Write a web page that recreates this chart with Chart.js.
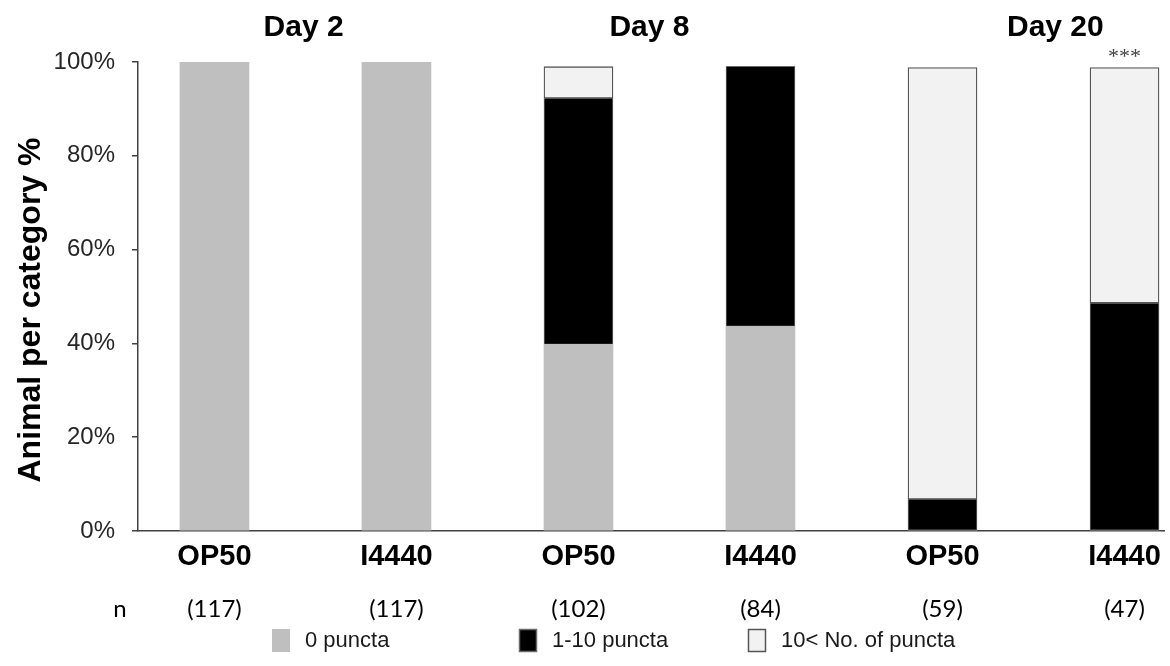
<!DOCTYPE html>
<html>
<head>
<meta charset="utf-8">
<script src="https://cdn.jsdelivr.net/npm/chart.js@4.4.1/dist/chart.umd.min.js"></script>
<style>
  html, body { margin: 0; padding: 0; background: #ffffff; }
  #wrap { width: 1170px; height: 666px; }
</style>
</head>
<body>
<div id="wrap"><canvas id="c" width="1170" height="666"></canvas></div>
<script>
// Strain fed at each time point, with animal counts
const strains = ['OP50', 'I4440', 'OP50', 'I4440', 'OP50', 'I4440'];
const days = ['Day 2', 'Day 8', 'Day 20'];
const nAnimals = ['(117)', '(117)', '(102)', '(84)', '(59)', '(47)'];

// Percentage of animals in each puncta category
const zeroPuncta = [100, 100, 39.8, 43.6, 0, 0];
const lowPuncta  = [0, 0, 52.5, 55.5, 6.8, 48.6];
const highPuncta = [0, 0, 6.7, 0, 92.0, 50.2];
const seriesNames = ['0 puncta', '1-10 puncta', '10< No. of puncta'];

const yTicks = [0, 20, 40, 60, 80, 100];
const significance = ['', '', '', '', '', '***'];

const SANS = '"Liberation Sans", Arial, sans-serif';
const AXIS = '#404040';

const toPoints = arr => arr.map((v, i) => ({ x: i, y: v }));

// Headings, n row, significance marks, y title and legend
const annotations = {
  id: 'annotations',
  afterDraw(chart, args, opts) {
    const { ctx, scales: { x, y } } = chart;
    ctx.save();

    // day headings
    ctx.fillStyle = '#000';
    ctx.font = 'bold 30px ' + SANS;
    ctx.textAlign = 'center';
    ctx.textBaseline = 'middle';
    days.forEach((d, i) => ctx.fillText(d, x.getPixelForValue(opts.dayAt[i]), opts.dayY));

    // animal counts
    ctx.font = '24px Lato, "Open Sans", sans-serif';
    ctx.fillText('n', opts.nLabelX, opts.nY);
    nAnimals.forEach((n, i) => ctx.fillText(n, x.getPixelForValue(i), opts.nY));

    // significance above the stacked total
    ctx.font = '22px "Liberation Serif", serif';
    ctx.fillStyle = '#444';
    significance.forEach((s, i) => {
      if (!s) return;
      const total = zeroPuncta[i] + lowPuncta[i] + highPuncta[i];
      ctx.fillText(s, x.getPixelForValue(i), y.getPixelForValue(total) - 10);
    });

    // y axis title
    ctx.save();
    ctx.translate(opts.yTitleX, opts.yTitleY);
    ctx.rotate(-Math.PI / 2);
    ctx.fillStyle = '#000';
    ctx.font = 'bold 32px ' + SANS;
    ctx.fillText('Animal per category %', 0, 0);
    ctx.restore();

    // legend
    ctx.textAlign = 'left';
    ctx.font = '22px ' + SANS;
    chart.data.datasets.forEach((ds, i) => {
      const bx = opts.legendX[i];
      ctx.fillStyle = ds.backgroundColor;
      ctx.fillRect(bx, opts.legendTop, 18, 23);
      if (ds.borderWidth) {
        ctx.strokeStyle = ds.borderColor;
        ctx.lineWidth = 1.5;
        ctx.strokeRect(bx + 0.5, opts.legendTop + 0.5, 17, 22);
      }
      ctx.fillStyle = '#1a1a1a';
      ctx.fillText(ds.label, bx + 33, opts.legendTop + 12);
    });

    ctx.restore();
  }
};

new Chart(document.getElementById('c'), {
  type: 'bar',
  data: {
    datasets: [
      { label: seriesNames[0], data: toPoints(zeroPuncta), backgroundColor: '#bfbfbf', borderWidth: 0 },
      { label: seriesNames[1], data: toPoints(lowPuncta), backgroundColor: '#000000', borderColor: '#6a6a6a', borderWidth: 1, borderSkipped: false },
      { label: seriesNames[2], data: toPoints(highPuncta), backgroundColor: '#f2f2f2', borderColor: '#555555', borderWidth: 1.3, borderSkipped: false }
    ]
  },
  options: {
    responsive: false,
    devicePixelRatio: 1,
    animation: false,
    events: [],
    layout: { padding: { top: 62, right: 5, left: 0, bottom: 0 } },
    datasets: { bar: { barThickness: 69 } },
    plugins: {
      legend: { display: false },
      tooltip: { enabled: false },
      annotations: {
        dayAt: [0.49, 2.39, 4.62],
        dayY: 28,
        nY: 609,
        nLabelX: 120,
        yTitleX: 31,
        yTitleY: 310,
        legendX: [272, 519, 748],
        legendTop: 629
      }
    },
    scales: {
      x: {
        type: 'linear',
        offset: false,
        stacked: true,
        min: -0.42,
        max: 5.22,
        afterBuildTicks: s => { s.ticks = strains.map((_, i) => ({ value: i })); },
        afterFit: s => { s.height = 135; },
        ticks: {
          callback: v => strains[v],
          font: { family: SANS, size: 29, weight: 'bold' },
          color: '#000',
          padding: 9,
          autoSkip: false,
          maxRotation: 0
        },
        grid: { offset: false, drawOnChartArea: false, drawTicks: false },
        border: { display: true, color: AXIS, width: 1.5 }
      },
      y: {
        stacked: true,
        min: 0,
        max: 100,
        afterBuildTicks: s => { s.ticks = yTicks.map(v => ({ value: v })); },
        afterFit: s => { s.width = 138; },
        ticks: {
          callback: v => v + '%',
          font: { family: SANS, size: 24 },
          color: '#262626',
          padding: 17
        },
        grid: { drawOnChartArea: false, drawTicks: true, tickLength: 6, color: AXIS, lineWidth: 1.5 },
        border: { display: true, color: AXIS, width: 1.5 }
      }
    }
  },
  plugins: [annotations]
});
</script>
</body>
</html>
